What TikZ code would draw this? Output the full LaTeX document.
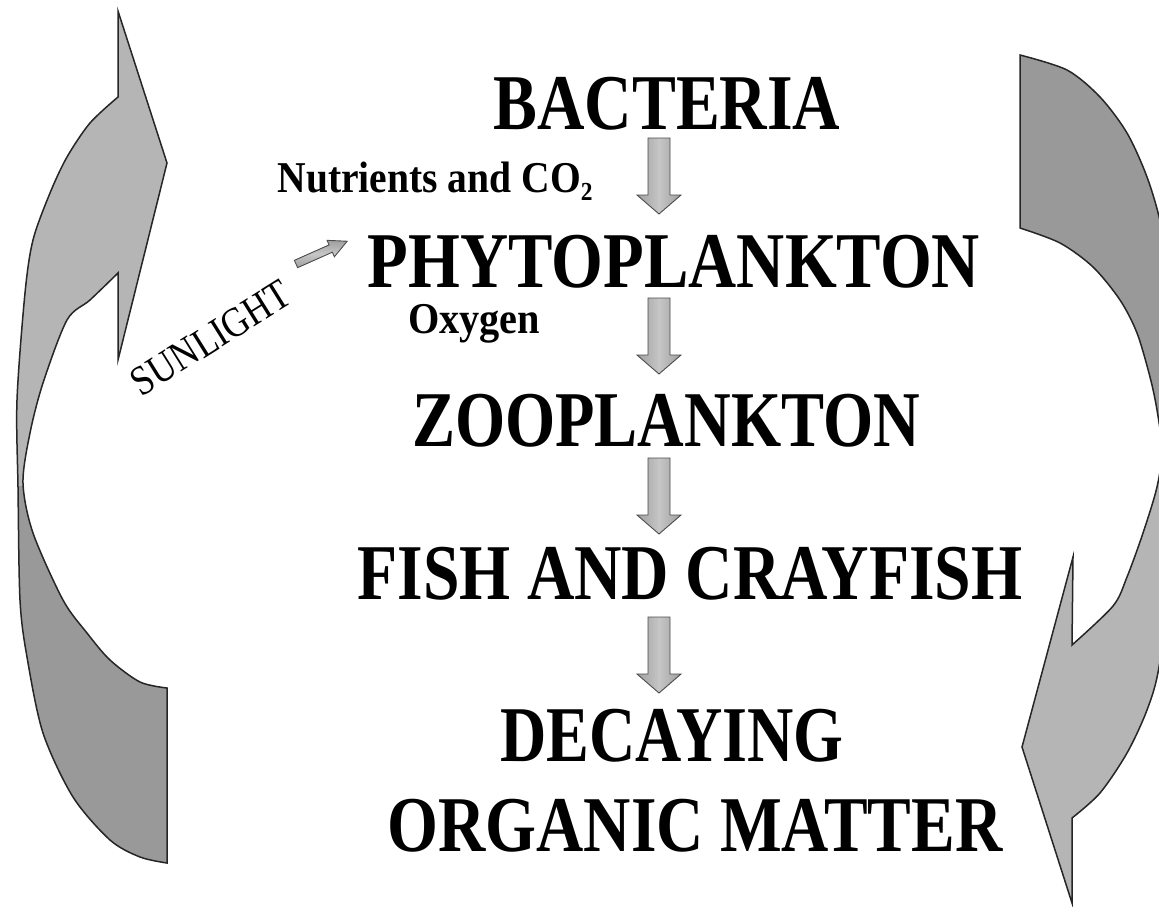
\documentclass[tikz,border=0pt]{standalone}
\usepackage{fontspec}
\setmainfont{Liberation Serif}
\usetikzlibrary{calc}
\newcommand{\fitw}[2]{\resizebox{#1}{\height}{#2}}
\newcommand{\mybigfont}{\fontsize{79}{84}\selectfont\bfseries}
\newcommand{\mysmallfont}{\fontsize{44}{48}\selectfont\bfseries}
\tikzset{
  curvarrow/.style={draw=black!85, line width=1.5pt, line join=miter},
  blockarr/.style={draw=gray!60!black, line width=0.9pt, left color=gray!75, right color=gray!75, middle color=gray!45},
  title/.style={font=\mybigfont, inner sep=0pt, anchor=base},
  smalltext/.style={font=\mysmallfont, inner sep=0pt, anchor=base},
  dnarrow/.pic={\shadedraw[blockarr] (-11,0) -- (11,0) -- (11,57) -- (22,57) -- (0,76) -- (-22,57) -- (-11,57) -- cycle;},
  sunarrow/.pic={\shadedraw[blockarr, top color=gray!75, bottom color=gray!75, middle color=gray!45] (0,-4) -- (38,-4) -- (38,-9) -- (56,0) -- (38,9) -- (38,4) -- (0,4) -- cycle;}
}
\begin{document}
\begin{tikzpicture}[x=1pt,y=-1pt]
\useasboundingbox (0,0) rectangle (1159,906);
\fill[white] (0,0) rectangle (1159,906);

% left curved arrow
\def\leftpath{(118,97) -- (118,11) -- (167,163) -- (118,360) -- (118,273)
  -- plot[smooth] coordinates {(118,273) (90,300) (67,320) (43,383) (30,433) (23,483) (33,533) (63,600) (87,633) (110,660) (140,682) (167,688)}
  -- (167,863)
  -- plot[smooth] coordinates {(167,863) (140,857) (110,840) (73,797) (43,733) (27,657) (20,600) (18,487) (17,400) (25,293) (33,240) (50,193) (67,157) (90,123) (118,97)}
  -- cycle}
\fill[gray!58] \leftpath;
\begin{scope}
  \clip (0,486) rectangle (300,906);
  \fill[gray!80] \leftpath;
\end{scope}
\draw[curvarrow] \leftpath;

% right curved arrow
\def\rightpath{(1020,55)
  -- plot[smooth] coordinates {(1020,55) (1067,70) (1100,97) (1127,133) (1147,177) (1161,225) (1174,300) (1180,440) (1173,560) (1159,667) (1147,710) (1127,753) (1100,793) (1072,818)}
  -- (1072,903) -- (1022,747) -- (1073,557) -- (1072,645)
  -- plot[smooth] coordinates {(1072,645) (1113,606) (1127,577) (1143,533) (1157,487) (1162,450) (1157,410) (1150,377) (1137,333) (1120,300) (1093,267) (1060,243) (1020,228)}
  -- cycle}
\begin{scope}
  \clip (0,0) rectangle (1159,906);
  \fill[gray!58] \rightpath;
  \begin{scope}
    \clip (900,0) rectangle (1200,450);
    \fill[gray!80] \rightpath;
  \end{scope}
  \draw[curvarrow] \rightpath;
\end{scope}

% titles
\node[title] (bact)  at (667,129) {\fitw{347pt}{BACTERIA}};
\node[title] (phyto) at (674,287) {\fitw{612pt}{PHYTOPLANKTON}};
\node[title] (zoo)   at (666,446) {\fitw{508pt}{ZOOPLANKTON}};
\node[title] (fish)  at (690,599) {\fitw{665pt}{FISH AND CRAYFISH}};
\node[title] (decay) at (672,761) {\fitw{343pt}{DECAYING}};
\node[title] (organ) at (695,851) {\fitw{615pt}{ORGANIC MATTER}};

% small labels
\node[smalltext] (nutr) at (435,192) {\fitw{315pt}{Nutrients and CO\raisebox{-8pt}{\fontsize{26}{26}\selectfont 2}}};
\node[smalltext] (oxy)  at (474,333) {\fitw{132pt}{Oxygen}};
\node[font=\fontsize{42}{44}\selectfont, inner sep=0pt, rotate=32] (sun) at (211,338) {\fitw{180pt}{SUNLIGHT}};

% arrows
\coordinate (a1) at (659,138);
\coordinate (a2) at (659,298);
\coordinate (a3) at (659,458);
\coordinate (a4) at (659,617);
\pic at (a1) {dnarrow};
\pic at (a2) {dnarrow};
\pic at (a3) {dnarrow};
\pic at (a4) {dnarrow};
\coordinate (s1) at (296,264);
\pic[rotate=24] at (s1) {sunarrow};
\end{tikzpicture}
\end{document}
